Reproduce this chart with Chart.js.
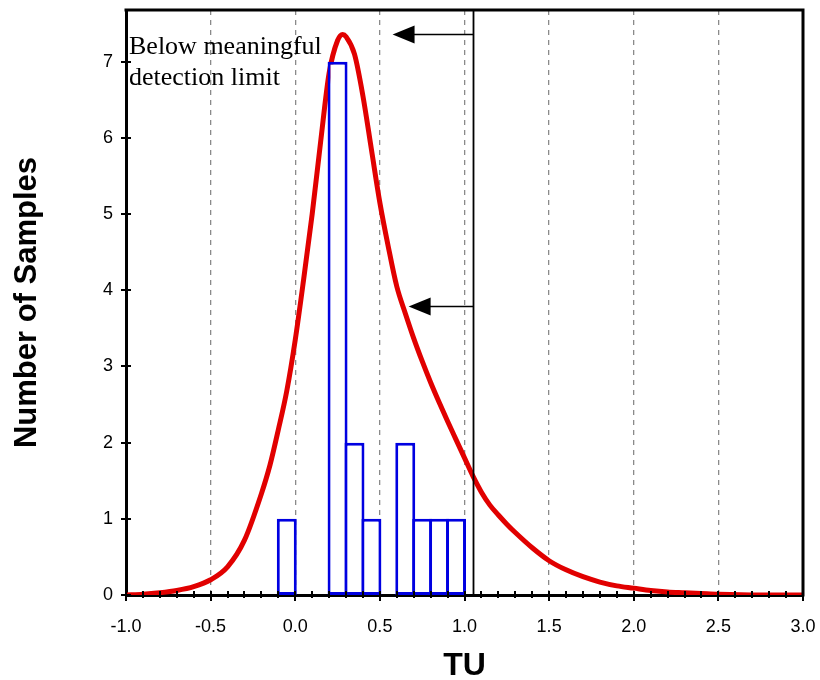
<!DOCTYPE html>
<html>
<head>
<meta charset="utf-8">
<title>TU distribution</title>
<script src="https://cdn.jsdelivr.net/npm/chart.js@4.4.1/dist/chart.umd.min.js"></script>
<style>
    html, body { margin: 0; padding: 0; background: #fff; }
</style>
</head>
<body>
<canvas id="TuHistogramChart" width="820" height="680"></canvas>
<script>
// histogram, bins 0.1 TU wide (bin centres)
var binCenters = [-0.05, 0.25, 0.35, 0.45, 0.65, 0.75, 0.85, 0.95];
var binCounts = [1, 7, 2, 1, 2, 1, 1, 1];

// fitted distribution curve
var curveX = [-1.0, -0.9, -0.8, -0.7, -0.6, -0.5, -0.4, -0.3, -0.2, -0.15, -0.1, -0.05,
    0.0, 0.05, 0.1, 0.15, 0.2, 0.25, 0.28, 0.3, 0.35, 0.4, 0.45, 0.5, 0.55, 0.6, 0.65,
    0.7, 0.75, 0.8, 0.85, 0.9, 0.95, 1.0, 1.05, 1.1, 1.15, 1.2, 1.25, 1.3, 1.4, 1.5, 1.6,
    1.7, 1.8, 1.9, 2.0, 2.1, 2.2, 2.3, 2.4, 2.5, 2.75, 3.0];
var curveY = [0.0, 0.01, 0.03, 0.06, 0.11, 0.2, 0.37, 0.72, 1.33, 1.7, 2.17, 2.68,
    3.35, 4.15, 5.0, 5.95, 6.85, 7.28, 7.36, 7.33, 7.1, 6.55, 5.85, 5.15, 4.57, 4.05, 3.7,
    3.37, 3.07, 2.79, 2.53, 2.28, 2.04, 1.8, 1.56, 1.35, 1.18, 1.05, 0.93, 0.82, 0.62, 0.45, 0.33,
    0.24, 0.17, 0.12, 0.09, 0.06, 0.04, 0.03, 0.02, 0.01, 0.0, 0.0];

var xMin = -1.0, xMax = 3.0, xMajorStep = 0.5, xMinorStep = 0.1;
var yMin = 0, yMax = 7.68, yStep = 1;

// annotation: detection limit line and arrows
var detectionLimit = 1.05;
var arrowY = [7.37, 3.8];
var arrowTipX = [0.575, 0.67];
var noteLines = ['Below meaningful', 'detection limit'];

var sansFont = '"Liberation Sans", Arial, Helvetica, sans-serif';

var histData = binCenters.map(function (c, i) { return { x: c, y: binCounts[i] }; });
var curveData = curveX.map(function (x, i) { return { x: x, y: curveY[i] }; });

function isMajor(v) {
    return Math.abs(v / xMajorStep - Math.round(v / xMajorStep)) < 1e-6;
}

var decorPlugin = {
    id: 'decor',
    afterDatasetsDraw: function (chart) {
        var ctx = chart.ctx;
        var a = chart.chartArea;
        var xs = chart.scales.x, ys = chart.scales.y;
        ctx.save();

        // top and right frame
        ctx.strokeStyle = '#000';
        ctx.lineWidth = 3;
        ctx.beginPath();
        ctx.moveTo(a.left - 1.5, a.top);
        ctx.lineTo(a.right, a.top);
        ctx.lineTo(a.right, a.bottom + 1.5);
        ctx.stroke();

        // x tick marks (minor every 0.1, major every 0.5)
        ctx.lineWidth = 2;
        var n = Math.round((xMax - xMin) / xMinorStep);
        for (var i = 0; i <= n; i++) {
            var v = xMin + i * xMinorStep;
            var px = Math.round(xs.getPixelForValue(v));
            ctx.beginPath();
            ctx.moveTo(px, a.bottom - 4);
            ctx.lineTo(px, a.bottom + (isMajor(v) ? 6 : 3));
            ctx.stroke();
        }
        // y tick marks
        for (var t = yMin; t <= yMax; t += yStep) {
            var py = Math.round(ys.getPixelForValue(t));
            ctx.beginPath();
            ctx.moveTo(a.left - 5, py);
            ctx.lineTo(a.left + 5, py);
            ctx.stroke();
        }

        // detection limit line
        var lx = Math.round(xs.getPixelForValue(detectionLimit)) + 0.5;
        ctx.lineWidth = 1.8;
        ctx.beginPath();
        ctx.moveTo(lx, a.top);
        ctx.lineTo(lx, a.bottom);
        ctx.stroke();

        // arrows
        ctx.lineWidth = 1.5;
        ctx.fillStyle = '#000';
        for (var k = 0; k < arrowY.length; k++) {
            var ay = Math.round(ys.getPixelForValue(arrowY[k])) + 0.5;
            var tip = xs.getPixelForValue(arrowTipX[k]);
            ctx.beginPath();
            ctx.moveTo(lx, ay);
            ctx.lineTo(tip + 18, ay);
            ctx.stroke();
            ctx.beginPath();
            ctx.moveTo(tip, ay);
            ctx.lineTo(tip + 22, ay - 9);
            ctx.lineTo(tip + 22, ay + 9);
            ctx.closePath();
            ctx.fill();
        }

        // note text
        ctx.font = '26px "Liberation Serif", "Times New Roman", serif';
        ctx.textAlign = 'left';
        ctx.textBaseline = 'alphabetic';
        ctx.fillText(noteLines[0], a.left + 3, a.top + 44);
        ctx.fillText(noteLines[1], a.left + 3, a.top + 75);

        ctx.restore();
    }
};

var ctx = document.getElementById('TuHistogramChart').getContext('2d');
window.TuChart = new Chart(ctx, {
    type: 'bar',
    data: {
        datasets: [{
            type: 'bar',
            label: 'Samples',
            data: histData,
            backgroundColor: '#ffffff',
            borderColor: 'rgb(0, 0, 225)',
            borderWidth: 3,
            borderSkipped: false,
            // slightly wider than the bin so neighbouring borders overlap into one line
            barPercentage: 1.18,
            categoryPercentage: 1.0,
            order: 0
        }, {
            type: 'line',
            label: 'Distribution',
            data: curveData,
            borderColor: 'rgb(225, 0, 0)',
            borderWidth: 5,
            pointRadius: 0,
            cubicInterpolationMode: 'monotone',
            fill: false,
            order: 1
        }]
    },
    options: {
        responsive: false,
        animation: false,
        devicePixelRatio: 1,
        layout: { padding: { top: 10, right: 17, left: 0, bottom: 0 } },
        plugins: {
            legend: { display: false },
            tooltip: { enabled: false },
            title: { display: false }
        },
        scales: {
            x: {
                type: 'linear',
                min: xMin,
                max: xMax,
                offset: false,
                grid: {
                    offset: false,
                    drawTicks: false,
                    lineWidth: 1.3,
                    color: function (c) {
                        var v = c.tick ? c.tick.value : null;
                        if (v === null || v <= xMin || v >= xMax) return 'rgba(0,0,0,0)';
                        return '#8a8a8a';
                    }
                },
                border: { display: true, color: '#000', width: 3, dash: [5, 5] },
                ticks: {
                    stepSize: xMajorStep,
                    autoSkip: false,
                    maxRotation: 0,
                    padding: 21,
                    color: '#000',
                    font: { family: sansFont, size: 18 },
                    callback: function (v) { return Number(v).toFixed(1); }
                },
                title: {
                    display: true,
                    text: 'TU',
                    color: '#000',
                    font: { family: sansFont, size: 32, weight: 'bold', lineHeight: 1 },
                    padding: { top: 0, bottom: -2 }
                },
                afterFit: function (s) {
                    s.height = 85;
                    s.paddingLeft = 0;
                    s.paddingRight = 0;
                }
            },
            y: {
                type: 'linear',
                min: yMin,
                max: yMax,
                grid: { display: false, drawTicks: false },
                border: { display: true, color: '#000', width: 3 },
                ticks: {
                    stepSize: yStep,
                    includeBounds: false,
                    padding: 13,
                    color: '#000',
                    font: { family: sansFont, size: 18 }
                },
                title: {
                    display: true,
                    text: 'Number of Samples',
                    color: '#000',
                    font: { family: sansFont, size: 31, weight: 'bold', lineHeight: 1 },
                    padding: { top: 12, bottom: 0 }
                },
                afterFit: function (s) {
                    s.width = 126;
                    s.paddingTop = 0;
                    s.paddingBottom = 0;
                }
            }
        }
    },
    plugins: [decorPlugin]
});
</script>
</body>
</html>
